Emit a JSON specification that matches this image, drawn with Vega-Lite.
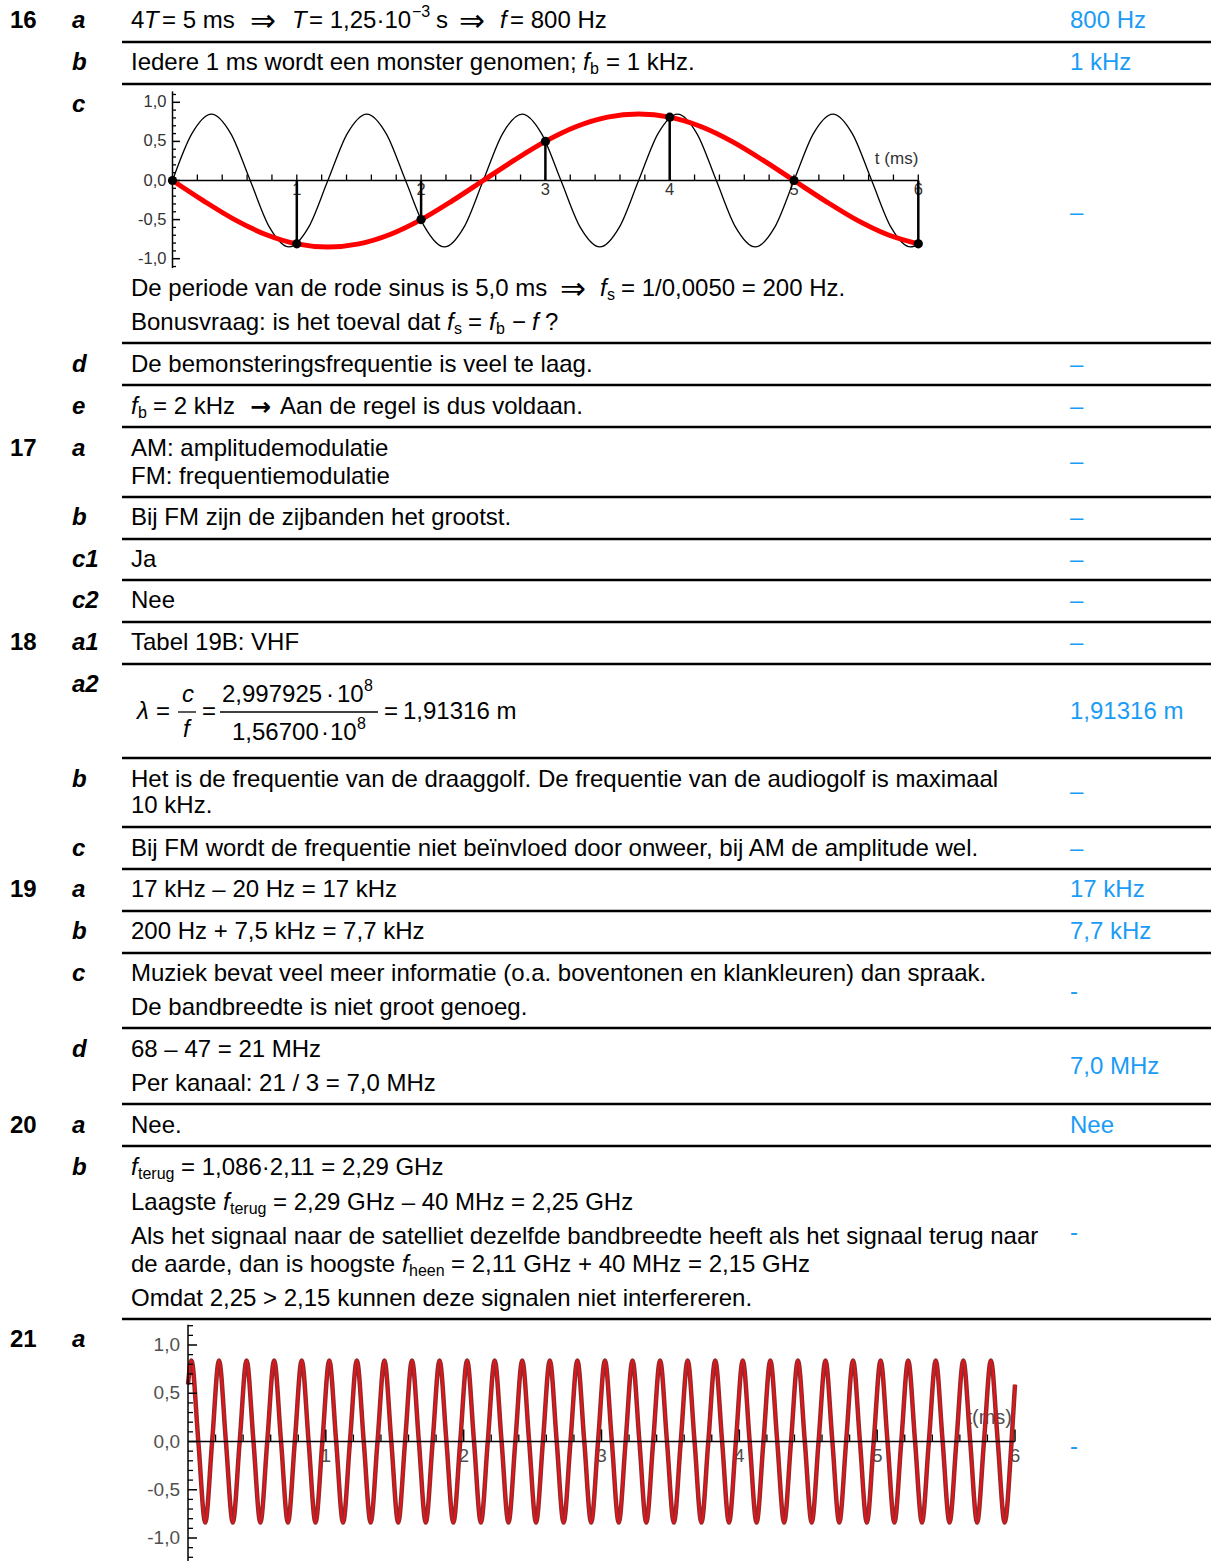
{
"$schema":"https://vega.github.io/schema/vega-lite/v6.json",
"width":1211,"height":1561,
"autosize":{"type":"fit","contains":"padding"},
"padding":0,
"background":"#ffffff",
"config":{"view":{"stroke":null},"axis":{"disable":true}},
"datasets":{
"txt":[
{"x":10,"y":21,"s":"16","k":"num"},{"x":10,"y":449,"s":"17","k":"num"},{"x":10,"y":643,"s":"18","k":"num"},{"x":10,"y":890,"s":"19","k":"num"},{"x":10,"y":1126,"s":"20","k":"num"},{"x":10,"y":1340,"s":"21","k":"num"},
{"x":72,"y":21,"s":"a","k":"let"},{"x":72,"y":63,"s":"b","k":"let"},{"x":72,"y":105,"s":"c","k":"let"},{"x":72,"y":365,"s":"d","k":"let"},{"x":72,"y":407,"s":"e","k":"let"},
{"x":72,"y":449,"s":"a","k":"let"},{"x":72,"y":518,"s":"b","k":"let"},{"x":72,"y":560,"s":"c1","k":"let"},{"x":72,"y":601,"s":"c2","k":"let"},
{"x":72,"y":643,"s":"a1","k":"let"},{"x":72,"y":685,"s":"a2","k":"let"},{"x":72,"y":780,"s":"b","k":"let"},{"x":72,"y":849,"s":"c","k":"let"},
{"x":72,"y":890,"s":"a","k":"let"},{"x":72,"y":932,"s":"b","k":"let"},{"x":72,"y":974,"s":"c","k":"let"},{"x":72,"y":1050,"s":"d","k":"let"},
{"x":72,"y":1126,"s":"a","k":"let"},{"x":72,"y":1168,"s":"b","k":"let"},{"x":72,"y":1340,"s":"a","k":"let"},
{"x":131,"y":21,"s":"4","k":"body"},{"x":144,"y":21,"s":"T","k":"ital"},{"x":162,"y":21,"s":"= 5 ms","k":"body"},{"x":250,"y":21,"s":"⇒","k":"sym"},{"x":292,"y":21,"s":"T","k":"ital"},{"x":309,"y":21,"s":"= 1,25·10","k":"body"},{"x":412,"y":12,"s":"\u22123","k":"sup"},{"x":436,"y":21,"s":"s","k":"body"},{"x":459,"y":21,"s":"⇒","k":"sym"},{"x":500,"y":21,"s":"f","k":"ital"},{"x":510,"y":21,"s":"= 800 Hz","k":"body"},
{"x":131,"y":63,"s":"Iedere 1 ms wordt een monster genomen;","k":"body"},{"x":583,"y":63,"s":"f","k":"ital"},{"x":590,"y":63,"s":"b","k":"sub"},{"x":606,"y":63,"s":"= 1 kHz.","k":"body"},
{"x":131,"y":289,"s":"De periode van de rode sinus is 5,0 ms","k":"body"},{"x":560,"y":289,"s":"⇒","k":"sym"},{"x":600,"y":289,"s":"f","k":"ital"},{"x":607,"y":289,"s":"s","k":"sub"},{"x":621,"y":289,"s":"= 1/0,0050 = 200 Hz.","k":"body"},
{"x":131,"y":323,"s":"Bonusvraag: is het toeval dat","k":"body"},{"x":447,"y":323,"s":"f","k":"ital"},{"x":454,"y":323,"s":"s","k":"sub"},{"x":468,"y":323,"s":"=","k":"body"},{"x":489,"y":323,"s":"f","k":"ital"},{"x":496,"y":323,"s":"b","k":"sub"},{"x":512,"y":323,"s":"\u2212","k":"body"},{"x":532,"y":323,"s":"f","k":"ital"},{"x":545,"y":323,"s":"?","k":"body"},
{"x":131,"y":365,"s":"De bemonsteringsfrequentie is veel te laag.","k":"body"},
{"x":131,"y":407,"s":"f","k":"ital"},{"x":138,"y":407,"s":"b","k":"sub"},{"x":153,"y":407,"s":"= 2 kHz","k":"body"},{"x":250,"y":407,"s":"→","k":"arr"},{"x":280,"y":407,"s":"Aan de regel is dus voldaan.","k":"body"},
{"x":131,"y":449,"s":"AM: amplitudemodulatie","k":"body"},{"x":131,"y":477,"s":"FM: frequentiemodulatie","k":"body"},
{"x":131,"y":518,"s":"Bij FM zijn de zijbanden het grootst.","k":"body"},
{"x":131,"y":560,"s":"Ja","k":"body"},{"x":131,"y":601,"s":"Nee","k":"body"},
{"x":131,"y":643,"s":"Tabel 19B: VHF","k":"body"},
{"x":137,"y":712,"s":"λ","k":"mital"},{"x":156,"y":712,"s":"=","k":"math"},{"x":182,"y":695,"s":"c","k":"mital"},{"x":183,"y":730,"s":"f","k":"mital"},{"x":202,"y":712,"s":"=","k":"math"},
{"x":222,"y":695,"s":"2,997925","k":"math"},{"x":326,"y":695,"s":"·","k":"math"},{"x":337,"y":695,"s":"10","k":"math"},{"x":364,"y":686,"s":"8","k":"msup"},
{"x":232,"y":733,"s":"1,56700","k":"math"},{"x":321,"y":733,"s":"·","k":"math"},{"x":330,"y":733,"s":"10","k":"math"},{"x":357,"y":724,"s":"8","k":"msup"},
{"x":384,"y":712,"s":"=","k":"math"},{"x":403,"y":712,"s":"1,91316 m","k":"math"},
{"x":131,"y":780,"s":"Het is de frequentie van de draaggolf. De frequentie van de audiogolf is maximaal","k":"body"},{"x":131,"y":806,"s":"10 kHz.","k":"body"},
{"x":131,"y":849,"s":"Bij FM wordt de frequentie niet beïnvloed door onweer, bij AM de amplitude wel.","k":"body"},
{"x":131,"y":890,"s":"17 kHz – 20 Hz = 17 kHz","k":"body"},
{"x":131,"y":932,"s":"200 Hz + 7,5 kHz = 7,7 kHz","k":"body"},
{"x":131,"y":974,"s":"Muziek bevat veel meer informatie (o.a. boventonen en klankleuren) dan spraak.","k":"body"},{"x":131,"y":1008,"s":"De bandbreedte is niet groot genoeg.","k":"body"},
{"x":131,"y":1050,"s":"68 – 47 = 21 MHz","k":"body"},{"x":131,"y":1084,"s":"Per kanaal: 21 / 3 = 7,0 MHz","k":"body"},
{"x":131,"y":1126,"s":"Nee.","k":"body"},
{"x":131,"y":1168,"s":"f","k":"ital"},{"x":138,"y":1168,"s":"terug","k":"sub"},{"x":181,"y":1168,"s":"= 1,086·2,11 = 2,29 GHz","k":"body"},
{"x":131,"y":1203,"s":"Laagste","k":"body"},{"x":223,"y":1203,"s":"f","k":"ital"},{"x":230,"y":1203,"s":"terug","k":"sub"},{"x":273,"y":1203,"s":"= 2,29 GHz – 40 MHz = 2,25 GHz","k":"body"},
{"x":131,"y":1237,"s":"Als het signaal naar de satelliet dezelfde bandbreedte heeft als het signaal terug naar","k":"body"},
{"x":131,"y":1265,"s":"de aarde, dan is hoogste","k":"body"},{"x":402,"y":1265,"s":"f","k":"ital"},{"x":409,"y":1265,"s":"heen","k":"sub"},{"x":451,"y":1265,"s":"= 2,11 GHz + 40 MHz = 2,15 GHz","k":"body"},
{"x":131,"y":1299,"s":"Omdat 2,25 > 2,15 kunnen deze signalen niet interfereren.","k":"body"},
{"x":1070,"y":21,"s":"800 Hz","k":"ans"},{"x":1070,"y":63,"s":"1 kHz","k":"ans"},{"x":1070,"y":213,"s":"–","k":"ans"},{"x":1070,"y":365,"s":"–","k":"ans"},{"x":1070,"y":407,"s":"–","k":"ans"},
{"x":1070,"y":462,"s":"–","k":"ans"},{"x":1070,"y":518,"s":"–","k":"ans"},{"x":1070,"y":560,"s":"–","k":"ans"},{"x":1070,"y":601,"s":"–","k":"ans"},{"x":1070,"y":643,"s":"–","k":"ans"},
{"x":1070,"y":712,"s":"1,91316 m","k":"ans"},{"x":1070,"y":792,"s":"–","k":"ans"},{"x":1070,"y":849,"s":"–","k":"ans"},{"x":1070,"y":890,"s":"17 kHz","k":"ans"},{"x":1070,"y":932,"s":"7,7 kHz","k":"ans"},
{"x":1070,"y":992,"s":"-","k":"ans"},{"x":1070,"y":1067,"s":"7,0 MHz","k":"ans"},{"x":1070,"y":1126,"s":"Nee","k":"ans"},{"x":1070,"y":1233,"s":"-","k":"ans"},{"x":1070,"y":1447,"s":"-","k":"ans"}
],
"hr":[{"y":42},{"y":84},{"y":343},{"y":385},{"y":427},{"y":497},{"y":539},{"y":580},{"y":622},{"y":664},{"y":758},{"y":827},{"y":869},{"y":911},{"y":953},{"y":1028},{"y":1104},{"y":1146},{"y":1319}],
"bars":[{"x1":178,"x2":196,"y":712},{"x1":220,"x2":378,"y":712}],
"ylab":[{"v":1,"label":"1,0"},{"v":0.5,"label":"0,5"},{"v":0,"label":"0,0"},{"v":-0.5,"label":"-0,5"},{"v":-1,"label":"-1,0"}],
"xlab":[{"t":1,"label":"1"},{"t":2,"label":"2"},{"t":3,"label":"3"},{"t":4,"label":"4"},{"t":5,"label":"5"},{"t":6,"label":"6"}],
"yt":[{"v":-1.2,"m":0},{"v":-1.1,"m":0},{"v":-1,"m":1},{"v":-0.9,"m":0},{"v":-0.8,"m":0},{"v":-0.7,"m":0},{"v":-0.6,"m":0},{"v":-0.5,"m":1},{"v":-0.4,"m":0},{"v":-0.3,"m":0},{"v":-0.2,"m":0},{"v":-0.1,"m":0},{"v":0,"m":1},{"v":0.1,"m":0},{"v":0.2,"m":0},{"v":0.3,"m":0},{"v":0.4,"m":0},{"v":0.5,"m":1},{"v":0.6,"m":0},{"v":0.7,"m":0},{"v":0.8,"m":0},{"v":0.9,"m":0},{"v":1,"m":1},{"v":1.1,"m":0},{"v":1.2,"m":0}],
"xt":[{"t":0.2,"m":0},{"t":0.4,"m":0},{"t":0.6,"m":0},{"t":0.8,"m":0},{"t":1,"m":1},{"t":1.2,"m":0},{"t":1.4,"m":0},{"t":1.6,"m":0},{"t":1.8,"m":0},{"t":2,"m":1},{"t":2.2,"m":0},{"t":2.4,"m":0},{"t":2.6,"m":0},{"t":2.8,"m":0},{"t":3,"m":1},{"t":3.2,"m":0},{"t":3.4,"m":0},{"t":3.6,"m":0},{"t":3.8,"m":0},{"t":4,"m":1},{"t":4.2,"m":0},{"t":4.4,"m":0},{"t":4.6,"m":0},{"t":4.8,"m":0},{"t":5,"m":1},{"t":5.2,"m":0},{"t":5.4,"m":0},{"t":5.6,"m":0},{"t":5.8,"m":0},{"t":6,"m":1}],
"c1axis":[{"x0":0,"x1":6,"y0":-1.12,"y1":1.14}],
"c1title":[{"t":6,"label":"t (ms)"}],
"c1k":[{"t":0,"v":0},{"t":0.156,"v":0.6},{"t":0.313,"v":0.85},{"t":0.469,"v":0.6},{"t":0.625,"v":0},{"t":0.781,"v":-0.6},{"t":0.938,"v":-0.85},{"t":1.094,"v":-0.6},{"t":1.25,"v":0},{"t":1.406,"v":0.6},{"t":1.563,"v":0.85},{"t":1.719,"v":0.6},{"t":1.875,"v":0},{"t":2.031,"v":-0.6},{"t":2.188,"v":-0.85},{"t":2.344,"v":-0.6},{"t":2.5,"v":0},{"t":2.656,"v":0.6},{"t":2.813,"v":0.85},{"t":2.969,"v":0.6},{"t":3.125,"v":0},{"t":3.281,"v":-0.6},{"t":3.438,"v":-0.85},{"t":3.594,"v":-0.6},{"t":3.75,"v":0},{"t":3.906,"v":0.6},{"t":4.063,"v":0.85},{"t":4.219,"v":0.6},{"t":4.375,"v":0},{"t":4.531,"v":-0.6},{"t":4.688,"v":-0.85},{"t":4.844,"v":-0.6},{"t":5,"v":0},{"t":5.156,"v":0.6},{"t":5.313,"v":0.85},{"t":5.469,"v":0.6},{"t":5.625,"v":0},{"t":5.781,"v":-0.6},{"t":5.938,"v":-0.85},{"t":6,"v":-0.81}],
"c1r":[{"t":0,"v":0},{"t":0.25,"v":-0.26},{"t":0.5,"v":-0.5},{"t":0.75,"v":-0.69},{"t":1,"v":-0.81},{"t":1.25,"v":-0.85},{"t":1.5,"v":-0.81},{"t":1.75,"v":-0.69},{"t":2,"v":-0.5},{"t":2.25,"v":-0.26},{"t":2.5,"v":0},{"t":2.75,"v":0.26},{"t":3,"v":0.5},{"t":3.25,"v":0.69},{"t":3.5,"v":0.81},{"t":3.75,"v":0.85},{"t":4,"v":0.81},{"t":4.25,"v":0.69},{"t":4.5,"v":0.5},{"t":4.75,"v":0.26},{"t":5,"v":0},{"t":5.25,"v":-0.26},{"t":5.5,"v":-0.5},{"t":5.75,"v":-0.69},{"t":6,"v":-0.81}],
"c1s":[{"t":0,"v":0},{"t":1,"v":-0.81},{"t":2,"v":-0.5},{"t":3,"v":0.5},{"t":4,"v":0.81},{"t":5,"v":0},{"t":6,"v":-0.81}],
"c2axis":[{"x0":0,"x1":6,"y0":-1.25,"y1":1.21}],
"c2title":[{"t":6,"label":"t(ms)"}],
"c2":[{"t":0,"v":0.59},
{"t":0.025,"v":0.84},{"t":0.075,"v":0},{"t":0.125,"v":-0.84},{"t":0.175,"v":0},
{"t":0.225,"v":0.84},{"t":0.275,"v":0},{"t":0.325,"v":-0.84},{"t":0.375,"v":0},
{"t":0.425,"v":0.84},{"t":0.475,"v":0},{"t":0.525,"v":-0.84},{"t":0.575,"v":0},
{"t":0.625,"v":0.84},{"t":0.675,"v":0},{"t":0.725,"v":-0.84},{"t":0.775,"v":0},
{"t":0.825,"v":0.84},{"t":0.875,"v":0},{"t":0.925,"v":-0.84},{"t":0.975,"v":0},
{"t":1.025,"v":0.84},{"t":1.075,"v":0},{"t":1.125,"v":-0.84},{"t":1.175,"v":0},
{"t":1.225,"v":0.84},{"t":1.275,"v":0},{"t":1.325,"v":-0.84},{"t":1.375,"v":0},
{"t":1.425,"v":0.84},{"t":1.475,"v":0},{"t":1.525,"v":-0.84},{"t":1.575,"v":0},
{"t":1.625,"v":0.84},{"t":1.675,"v":0},{"t":1.725,"v":-0.84},{"t":1.775,"v":0},
{"t":1.825,"v":0.84},{"t":1.875,"v":0},{"t":1.925,"v":-0.84},{"t":1.975,"v":0},
{"t":2.025,"v":0.84},{"t":2.075,"v":0},{"t":2.125,"v":-0.84},{"t":2.175,"v":0},
{"t":2.225,"v":0.84},{"t":2.275,"v":0},{"t":2.325,"v":-0.84},{"t":2.375,"v":0},
{"t":2.425,"v":0.84},{"t":2.475,"v":0},{"t":2.525,"v":-0.84},{"t":2.575,"v":0},
{"t":2.625,"v":0.84},{"t":2.675,"v":0},{"t":2.725,"v":-0.84},{"t":2.775,"v":0},
{"t":2.825,"v":0.84},{"t":2.875,"v":0},{"t":2.925,"v":-0.84},{"t":2.975,"v":0},
{"t":3.025,"v":0.84},{"t":3.075,"v":0},{"t":3.125,"v":-0.84},{"t":3.175,"v":0},
{"t":3.225,"v":0.84},{"t":3.275,"v":0},{"t":3.325,"v":-0.84},{"t":3.375,"v":0},
{"t":3.425,"v":0.84},{"t":3.475,"v":0},{"t":3.525,"v":-0.84},{"t":3.575,"v":0},
{"t":3.625,"v":0.84},{"t":3.675,"v":0},{"t":3.725,"v":-0.84},{"t":3.775,"v":0},
{"t":3.825,"v":0.84},{"t":3.875,"v":0},{"t":3.925,"v":-0.84},{"t":3.975,"v":0},
{"t":4.025,"v":0.84},{"t":4.075,"v":0},{"t":4.125,"v":-0.84},{"t":4.175,"v":0},
{"t":4.225,"v":0.84},{"t":4.275,"v":0},{"t":4.325,"v":-0.84},{"t":4.375,"v":0},
{"t":4.425,"v":0.84},{"t":4.475,"v":0},{"t":4.525,"v":-0.84},{"t":4.575,"v":0},
{"t":4.625,"v":0.84},{"t":4.675,"v":0},{"t":4.725,"v":-0.84},{"t":4.775,"v":0},
{"t":4.825,"v":0.84},{"t":4.875,"v":0},{"t":4.925,"v":-0.84},{"t":4.975,"v":0},
{"t":5.025,"v":0.84},{"t":5.075,"v":0},{"t":5.125,"v":-0.84},{"t":5.175,"v":0},
{"t":5.225,"v":0.84},{"t":5.275,"v":0},{"t":5.325,"v":-0.84},{"t":5.375,"v":0},
{"t":5.425,"v":0.84},{"t":5.475,"v":0},{"t":5.525,"v":-0.84},{"t":5.575,"v":0},
{"t":5.625,"v":0.84},{"t":5.675,"v":0},{"t":5.725,"v":-0.84},{"t":5.775,"v":0},
{"t":5.825,"v":0.84},{"t":5.875,"v":0},{"t":5.925,"v":-0.84},{"t":5.975,"v":0},
{"t":6,"v":0.59}]
},
"resolve":{"scale":{"x":"independent","y":"independent"}},
"layer":[
{"data":{"name":"txt"},
 "encoding":{"x":{"field":"x","type":"quantitative","scale":{"domain":[0,1211],"range":[0,1211],"nice":false,"zero":false}},"y":{"field":"y","type":"quantitative","scale":{"domain":[0,1561],"range":[0,1561],"nice":false,"zero":false}},"text":{"field":"s"}},
 "layer":[
  {"transform":[{"filter":"datum.k=='num'"}],"mark":{"type":"text","align":"left","baseline":"middle","font":"Liberation Sans","fontSize":24,"fontWeight":"bold","fill":"#000000"}},
  {"transform":[{"filter":"datum.k=='let'"}],"mark":{"type":"text","align":"left","baseline":"middle","font":"Liberation Sans","fontSize":24,"fontWeight":"bold","fontStyle":"italic","fill":"#000000"}},
  {"transform":[{"filter":"datum.k=='body'"}],"mark":{"type":"text","align":"left","baseline":"middle","font":"Liberation Sans","fontSize":24,"fill":"#000000"}},
  {"transform":[{"filter":"datum.k=='sym'"}],"mark":{"type":"text","align":"left","baseline":"middle","font":"DejaVu Sans","fontSize":31,"dy":1,"fill":"#000000"}},
  {"transform":[{"filter":"datum.k=='arr'"}],"mark":{"type":"text","align":"left","baseline":"middle","font":"DejaVu Sans","fontSize":25,"fontWeight":"bold","fill":"#000000"}},
  {"transform":[{"filter":"datum.k=='ital'"}],"mark":{"type":"text","align":"left","baseline":"middle","font":"Liberation Sans","fontSize":24,"fontStyle":"italic","fill":"#000000"}},
  {"transform":[{"filter":"datum.k=='sub'"}],"mark":{"type":"text","align":"left","baseline":"middle","font":"Liberation Sans","fontSize":16,"dy":6,"fill":"#000000"}},
  {"transform":[{"filter":"datum.k=='sup'"}],"mark":{"type":"text","align":"left","baseline":"middle","font":"Liberation Sans","fontSize":16,"fill":"#000000"}},
  {"transform":[{"filter":"datum.k=='ans'"}],"mark":{"type":"text","align":"left","baseline":"middle","font":"Liberation Sans","fontSize":24,"fill":"#1a9bf5"}},
  {"transform":[{"filter":"datum.k=='math'"}],"mark":{"type":"text","align":"left","baseline":"middle","font":"Liberation Sans","fontSize":24,"fill":"#000000"}},
  {"transform":[{"filter":"datum.k=='mital'"}],"mark":{"type":"text","align":"left","baseline":"middle","font":"Liberation Sans","fontSize":24,"fontStyle":"italic","fill":"#000000"}},
  {"transform":[{"filter":"datum.k=='msup'"}],"mark":{"type":"text","align":"left","baseline":"middle","font":"Liberation Sans","fontSize":16,"fill":"#000000"}}
 ]},
{"layer":[
  {"data":{"name":"hr"},"mark":{"type":"rule","stroke":"#000000","strokeWidth":2.5},
   "encoding":{"x":{"datum":122,"type":"quantitative","scale":{"domain":[0,1211],"range":[0,1211],"nice":false,"zero":false}},"x2":{"datum":1211},"y":{"field":"y","type":"quantitative","scale":{"domain":[0,1561],"range":[0,1561],"nice":false,"zero":false}}}},
  {"data":{"name":"bars"},"mark":{"type":"rule","stroke":"#000000","strokeWidth":1.3},
   "encoding":{"x":{"field":"x1","type":"quantitative","scale":{"domain":[0,1211],"range":[0,1211],"nice":false,"zero":false}},"x2":{"field":"x2"},"y":{"field":"y","type":"quantitative","scale":{"domain":[0,1561],"range":[0,1561],"nice":false,"zero":false}}}}
 ]},
{"layer":[
  {"data":{"name":"ylab"},"mark":{"type":"text","align":"right","baseline":"middle","dx":-6,"font":"Liberation Sans","fontSize":16.5,"fill":"#333333"},
   "encoding":{"x":{"datum":0,"type":"quantitative","scale":{"domain":[0,6],"range":[172.5,918.3],"nice":false,"zero":false}},"y":{"field":"v","type":"quantitative","scale":{"domain":[-1,1],"range":[258.7,102.3],"nice":false,"zero":false}},"text":{"field":"label"}}},
  {"data":{"name":"xlab"},"mark":{"type":"text","align":"center","baseline":"middle","dy":9,"font":"Liberation Sans","fontSize":16.5,"fill":"#333333"},
   "encoding":{"x":{"field":"t","type":"quantitative","scale":{"domain":[0,6],"range":[172.5,918.3],"nice":false,"zero":false}},"y":{"datum":0,"type":"quantitative","scale":{"domain":[-1,1],"range":[258.7,102.3],"nice":false,"zero":false}},"text":{"field":"label"}}},
  {"data":{"name":"c1title"},"mark":{"type":"text","align":"right","baseline":"middle","dy":-22,"font":"Liberation Sans","fontSize":17,"fill":"#333333"},
   "encoding":{"x":{"field":"t","type":"quantitative","scale":{"domain":[0,6],"range":[172.5,918.3],"nice":false,"zero":false}},"y":{"datum":0,"type":"quantitative","scale":{"domain":[-1,1],"range":[258.7,102.3],"nice":false,"zero":false}},"text":{"field":"label"}}},
  {"data":{"name":"c1axis"},"mark":{"type":"rule","stroke":"#000000","strokeWidth":1.5},
   "encoding":{"x":{"datum":0,"type":"quantitative","scale":{"domain":[0,6],"range":[172.5,918.3],"nice":false,"zero":false}},"y":{"field":"y0","type":"quantitative","scale":{"domain":[-1,1],"range":[258.7,102.3],"nice":false,"zero":false}},"y2":{"field":"y1"}}},
  {"data":{"name":"c1axis"},"mark":{"type":"rule","stroke":"#000000","strokeWidth":1.5},
   "encoding":{"x":{"field":"x0","type":"quantitative","scale":{"domain":[0,6],"range":[172.5,918.3],"nice":false,"zero":false}},"x2":{"field":"x1"},"y":{"datum":0,"type":"quantitative","scale":{"domain":[-1,1],"range":[258.7,102.3],"nice":false,"zero":false}}}},
  {"data":{"name":"yt"},"transform":[{"filter":"datum.m==1 && abs(datum.v)<1.15"}],"mark":{"type":"rule","stroke":"#000000","strokeWidth":1.5,"x2Offset":7.5},
   "encoding":{"x":{"datum":0,"type":"quantitative","scale":{"domain":[0,6],"range":[172.5,918.3],"nice":false,"zero":false}},"x2":{"datum":0},"y":{"field":"v","type":"quantitative","scale":{"domain":[-1,1],"range":[258.7,102.3],"nice":false,"zero":false}}}},
  {"data":{"name":"yt"},"transform":[{"filter":"datum.m==0 && abs(datum.v)<1.15"}],"mark":{"type":"rule","stroke":"#000000","strokeWidth":1.3,"x2Offset":3.5},
   "encoding":{"x":{"datum":0,"type":"quantitative","scale":{"domain":[0,6],"range":[172.5,918.3],"nice":false,"zero":false}},"x2":{"datum":0},"y":{"field":"v","type":"quantitative","scale":{"domain":[-1,1],"range":[258.7,102.3],"nice":false,"zero":false}}}},
  {"data":{"name":"xt"},"mark":{"type":"rule","stroke":"#000000","strokeWidth":1.3,"y2Offset":-6},
   "encoding":{"x":{"field":"t","type":"quantitative","scale":{"domain":[0,6],"range":[172.5,918.3],"nice":false,"zero":false}},"y":{"datum":0,"type":"quantitative","scale":{"domain":[-1,1],"range":[258.7,102.3],"nice":false,"zero":false}},"y2":{"datum":0}}},
  {"data":{"name":"c1k"},"mark":{"type":"line","stroke":"#000000","strokeWidth":1.3,"interpolate":"monotone"},
   "encoding":{"x":{"field":"t","type":"quantitative","scale":{"domain":[0,6],"range":[172.5,918.3],"nice":false,"zero":false}},"y":{"field":"v","type":"quantitative","scale":{"domain":[-1,1],"range":[258.7,102.3],"nice":false,"zero":false}}}},
  {"data":{"name":"c1r"},"mark":{"type":"line","stroke":"#ff0000","strokeWidth":5,"interpolate":"monotone"},
   "encoding":{"x":{"field":"t","type":"quantitative","scale":{"domain":[0,6],"range":[172.5,918.3],"nice":false,"zero":false}},"y":{"field":"v","type":"quantitative","scale":{"domain":[-1,1],"range":[258.7,102.3],"nice":false,"zero":false}}}},
  {"data":{"name":"c1s"},"mark":{"type":"rule","stroke":"#000000","strokeWidth":2.5},
   "encoding":{"x":{"field":"t","type":"quantitative","scale":{"domain":[0,6],"range":[172.5,918.3],"nice":false,"zero":false}},"y":{"field":"v","type":"quantitative","scale":{"domain":[-1,1],"range":[258.7,102.3],"nice":false,"zero":false}},"y2":{"datum":0}}},
  {"data":{"name":"c1s"},"mark":{"type":"point","filled":true,"fill":"#000000","stroke":null,"size":85,"opacity":1},
   "encoding":{"x":{"field":"t","type":"quantitative","scale":{"domain":[0,6],"range":[172.5,918.3],"nice":false,"zero":false}},"y":{"field":"v","type":"quantitative","scale":{"domain":[-1,1],"range":[258.7,102.3],"nice":false,"zero":false}}}}
 ]},
{"layer":[
  {"data":{"name":"ylab"},"mark":{"type":"text","align":"right","baseline":"middle","dx":-8,"font":"Liberation Sans","fontSize":19,"fill":"#505050"},
   "encoding":{"x":{"datum":0,"type":"quantitative","scale":{"domain":[0,6],"range":[188,1015],"nice":false,"zero":false}},"y":{"field":"v","type":"quantitative","scale":{"domain":[-1,1],"range":[1538,1345],"nice":false,"zero":false}},"text":{"field":"label"}}},
  {"data":{"name":"xlab"},"mark":{"type":"text","align":"center","baseline":"middle","dy":14,"font":"Liberation Sans","fontSize":19,"fill":"#505050"},
   "encoding":{"x":{"field":"t","type":"quantitative","scale":{"domain":[0,6],"range":[188,1015],"nice":false,"zero":false}},"y":{"datum":0,"type":"quantitative","scale":{"domain":[-1,1],"range":[1538,1345],"nice":false,"zero":false}},"text":{"field":"label"}}},
  {"data":{"name":"c2title"},"mark":{"type":"text","align":"right","baseline":"middle","dx":-3,"dy":-24,"font":"Liberation Sans","fontSize":20,"fill":"#505050"},
   "encoding":{"x":{"field":"t","type":"quantitative","scale":{"domain":[0,6],"range":[188,1015],"nice":false,"zero":false}},"y":{"datum":0,"type":"quantitative","scale":{"domain":[-1,1],"range":[1538,1345],"nice":false,"zero":false}},"text":{"field":"label"}}},
  {"data":{"name":"c2"},"mark":{"type":"line","stroke":"#8e2b2b","strokeWidth":4.5,"interpolate":"monotone"},
   "encoding":{"x":{"field":"t","type":"quantitative","scale":{"domain":[0,6],"range":[188,1015],"nice":false,"zero":false}},"y":{"field":"v","type":"quantitative","scale":{"domain":[-1,1],"range":[1538,1345],"nice":false,"zero":false}}}},
  {"data":{"name":"c2"},"mark":{"type":"line","stroke":"#e8141b","strokeWidth":2,"interpolate":"monotone"},
   "encoding":{"x":{"field":"t","type":"quantitative","scale":{"domain":[0,6],"range":[188,1015],"nice":false,"zero":false}},"y":{"field":"v","type":"quantitative","scale":{"domain":[-1,1],"range":[1538,1345],"nice":false,"zero":false}}}},
  {"data":{"name":"c2axis"},"mark":{"type":"rule","stroke":"#000000","strokeWidth":1.5},
   "encoding":{"x":{"datum":0,"type":"quantitative","scale":{"domain":[0,6],"range":[188,1015],"nice":false,"zero":false}},"y":{"field":"y0","type":"quantitative","scale":{"domain":[-1,1],"range":[1538,1345],"nice":false,"zero":false}},"y2":{"field":"y1"}}},
  {"data":{"name":"c2axis"},"mark":{"type":"rule","stroke":"#000000","strokeWidth":1.5},
   "encoding":{"x":{"field":"x0","type":"quantitative","scale":{"domain":[0,6],"range":[188,1015],"nice":false,"zero":false}},"x2":{"field":"x1"},"y":{"datum":0,"type":"quantitative","scale":{"domain":[-1,1],"range":[1538,1345],"nice":false,"zero":false}}}},
  {"data":{"name":"yt"},"transform":[{"filter":"datum.m==1"}],"mark":{"type":"rule","stroke":"#000000","strokeWidth":1.5,"x2Offset":9},
   "encoding":{"x":{"datum":0,"type":"quantitative","scale":{"domain":[0,6],"range":[188,1015],"nice":false,"zero":false}},"x2":{"datum":0},"y":{"field":"v","type":"quantitative","scale":{"domain":[-1,1],"range":[1538,1345],"nice":false,"zero":false}}}},
  {"data":{"name":"yt"},"transform":[{"filter":"datum.m==0"}],"mark":{"type":"rule","stroke":"#000000","strokeWidth":1.3,"x2Offset":5},
   "encoding":{"x":{"datum":0,"type":"quantitative","scale":{"domain":[0,6],"range":[188,1015],"nice":false,"zero":false}},"x2":{"datum":0},"y":{"field":"v","type":"quantitative","scale":{"domain":[-1,1],"range":[1538,1345],"nice":false,"zero":false}}}},
  {"data":{"name":"xt"},"transform":[{"filter":"datum.m==1"}],"mark":{"type":"rule","stroke":"#000000","strokeWidth":1.5,"y2Offset":-12},
   "encoding":{"x":{"field":"t","type":"quantitative","scale":{"domain":[0,6],"range":[188,1015],"nice":false,"zero":false}},"y":{"datum":0,"type":"quantitative","scale":{"domain":[-1,1],"range":[1538,1345],"nice":false,"zero":false}},"y2":{"datum":0}}},
  {"data":{"name":"xt"},"transform":[{"filter":"datum.m==0"}],"mark":{"type":"rule","stroke":"#000000","strokeWidth":1.3,"y2Offset":-7},
   "encoding":{"x":{"field":"t","type":"quantitative","scale":{"domain":[0,6],"range":[188,1015],"nice":false,"zero":false}},"y":{"datum":0,"type":"quantitative","scale":{"domain":[-1,1],"range":[1538,1345],"nice":false,"zero":false}},"y2":{"datum":0}}}
 ]}
]
}
